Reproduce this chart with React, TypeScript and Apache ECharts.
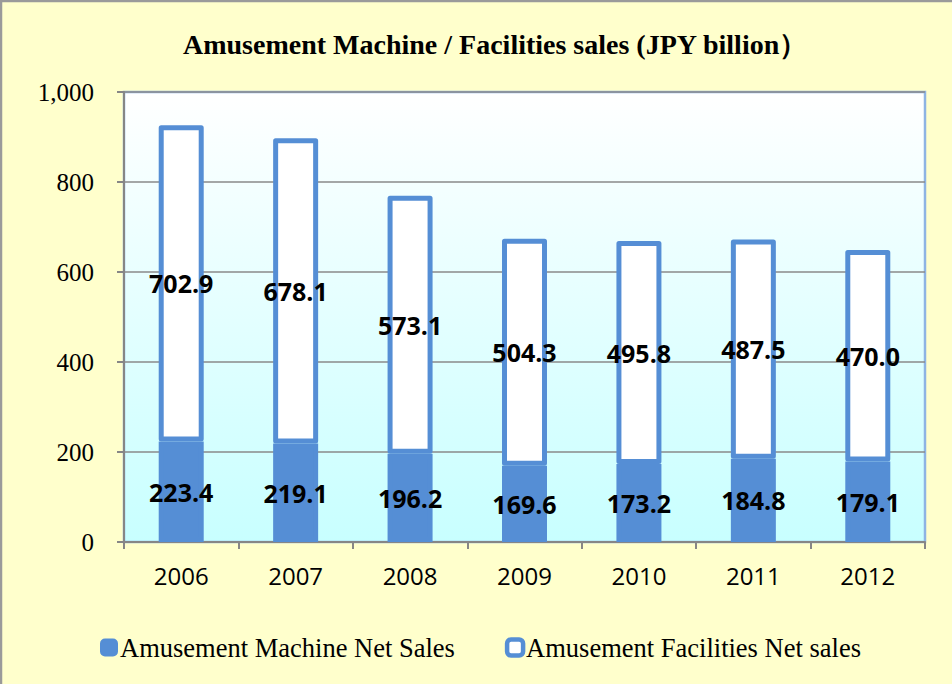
import React, { useEffect, useRef } from "react";
import * as echarts from "echarts";

const years = ["2006", "2007", "2008", "2009", "2010", "2011", "2012"];
const machineSales = [223.4, 219.1, 196.2, 169.6, 173.2, 184.8, 179.1];
const facilitiesSales = [702.9, 678.1, 573.1, 504.3, 495.8, 487.5, 470.0];
const seriesNames = ["Amusement Machine Net Sales", "Amusement Facilities Net sales"];
const yTickLabels = ["0", "200", "400", "600", "800", "1,000"];
const titleText = "Amusement Machine / Facilities sales (JPY billion）";

const BLUE = "#558ED5";
const SERIF = "Liberation Serif";

export default function App() {
  const ref = useRef<HTMLDivElement>(null);
  useEffect(() => {
    if (!ref.current) return;
    const chart = echarts.init(ref.current, undefined, { renderer: "svg" });
    const labelStyle = {
      show: true,
      position: "inside" as const,
      fontFamily: "Open Sans",
      fontWeight: "bold" as const,
      fontSize: 25,
      color: "#000",
      formatter: (p: any) => Number(p.value).toFixed(1),
    };
    chart.setOption({
      animation: false,
      backgroundColor: "#FFFFCC",
      textStyle: { fontFamily: SERIF },
      title: {
        text: titleText,
        left: 183,
        top: 30,
        padding: 0,
        textStyle: {
          fontFamily: SERIF,
          fontWeight: "bold",
          fontSize: 28,
          color: "#000",
        },
      },
      graphic: [
        {
          type: "rect",
          shape: { x: 1, y: 1, width: 1000, height: 800 },
          style: { fill: "none", stroke: "#9A9A9A", lineWidth: 2.5 },
          silent: true,
        },
      ],
      legend: {
        left: 100,
        top: 634,
        padding: 0,
        itemWidth: 16,
        itemHeight: 16,
        itemGap: 50,
        icon: "roundRect",
        textStyle: {
          fontFamily: SERIF,
          fontSize: 26.5,
          color: "#000",
          padding: [0, 0, 0, -2],
        },
        data: [
          { name: seriesNames[0], itemStyle: { color: BLUE, borderColor: BLUE, borderWidth: 2 } },
          { name: seriesNames[1], itemStyle: { color: "#FFFFFF", borderColor: BLUE, borderWidth: 4.5 } },
        ],
      },
      grid: {
        left: 124,
        right: 27,
        top: 92,
        bottom: 142,
        show: true,
        borderColor: "#8EB4E3",
        borderWidth: 2.5,
        backgroundColor: new echarts.graphic.LinearGradient(0, 0, 0, 1, [
          { offset: 0, color: "#FFFFFF" },
          { offset: 1, color: "#C8FFFF" },
        ]),
      },
      xAxis: {
        type: "category",
        data: years,
        axisLine: { show: true, lineStyle: { color: "#868686", width: 2 } },
        axisTick: { show: true, length: 7, lineStyle: { color: "#868686", width: 2 } },
        axisLabel: {
          fontFamily: "Open Sans",
          fontSize: 24,
          color: "#000",
          margin: 21,
        },
      },
      yAxis: {
        type: "value",
        min: 0,
        max: 1000,
        interval: 200,
        axisLine: { show: true, lineStyle: { color: "#868686", width: 2 } },
        axisTick: { show: true, length: 7, lineStyle: { color: "#868686", width: 2 } },
        splitLine: { show: true, lineStyle: { color: "#8A8A8A", width: 1.5 } },
        axisLabel: {
          margin: 30,
          formatter: (v: number) => "{s|" + (yTickLabels[Math.round(v / 200)] ?? String(v)) + "}",
          rich: {
            s: {
              fontFamily: SERIF,
              fontSize: 25,
              color: "#000",
            },
          },
        },
      },
      series: [
        {
          name: seriesNames[0],
          type: "bar",
          stack: "total",
          barWidth: 45,
          data: machineSales,
          itemStyle: { color: BLUE, borderColor: BLUE, borderWidth: 5 },
          label: labelStyle,
          z: 2,
        },
        {
          name: seriesNames[1],
          type: "bar",
          stack: "total",
          barWidth: 45,
          data: facilitiesSales,
          itemStyle: {
            color: "#FFFFFF",
            borderColor: BLUE,
            borderWidth: 5,
            borderJoin: "round",
          },
          label: labelStyle,
          z: 2,
        },
      ],
    });
    return () => chart.dispose();
  }, []);
  return (
    <div
      ref={ref}
      style={{ position: "fixed", left: 0, top: 0, width: 952, height: 684 }}
    />
  );
}
